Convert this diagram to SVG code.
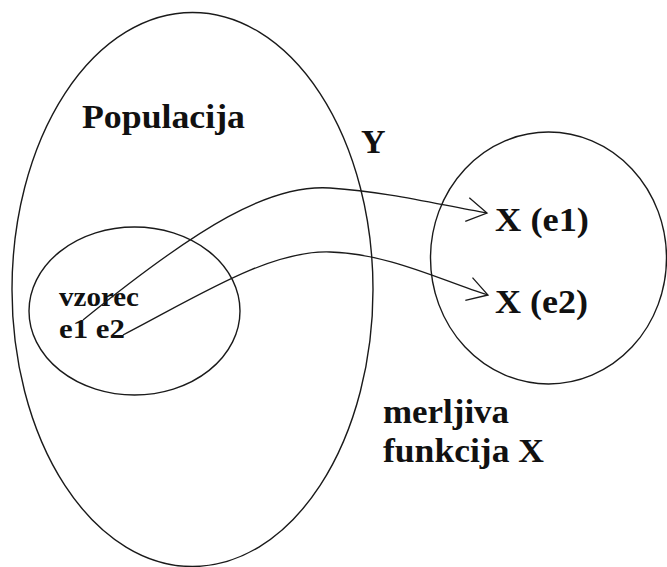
<svg xmlns="http://www.w3.org/2000/svg" width="667" height="567" viewBox="0 0 667 567">
<style>
.shape{fill:none;stroke:#1a1a1a;stroke-width:1.4}
.conn{fill:none;stroke:#1a1a1a;stroke-width:1.3}
.lbl{font-family:"Liberation Serif","Times New Roman",serif;font-weight:bold;font-size:33px;fill:#111}
.small{font-size:28px}
</style>
<defs>
<marker id="openArrow" markerUnits="userSpaceOnUse" markerWidth="40" markerHeight="40" refX="0" refY="0" orient="auto" viewBox="-30 -20 40 40" overflow="visible">
<path d="M-20,-12 L0,0 L-20,12" fill="none" stroke="#1a1a1a" stroke-width="1.3"/>
</marker>
</defs>
<rect width="667" height="567" fill="#fff"/>
<g id="population">
<ellipse class="shape" cx="192.5" cy="289.5" rx="180.5" ry="277"/>
<text class="lbl" x="82" y="128" textLength="163" lengthAdjust="spacingAndGlyphs">Populacija</text>
</g>
<g id="sample">
<ellipse class="shape" cx="134.5" cy="311" rx="105.5" ry="84"/>
<text class="lbl small" x="59" y="306" textLength="80" lengthAdjust="spacingAndGlyphs">vzorec</text>
<text class="lbl small" x="59" y="338" textLength="66" lengthAdjust="spacingAndGlyphs">e1 e2</text>
</g>
<g id="label-Y">
<text class="lbl" x="361" y="153" style="font-size:34px">Y</text>
</g>
<g id="image-set">
<ellipse class="shape" cx="548.5" cy="258" rx="118" ry="126"/>
<text class="lbl" x="495" y="231" textLength="94" lengthAdjust="spacingAndGlyphs" style="font-size:34px">X (e1)</text>
<text class="lbl" x="495" y="313" textLength="93" lengthAdjust="spacingAndGlyphs" style="font-size:34px">X (e2)</text>
</g>
<g id="function-label">
<text class="lbl" x="383" y="423" textLength="126" lengthAdjust="spacingAndGlyphs">merljiva</text>
<text class="lbl" x="383" y="462" textLength="161" lengthAdjust="spacingAndGlyphs">funkcija X</text>
</g>
<g id="connectors">
<path class="conn" d="M83,320 C200,225 270,184 330,188 S440,205 487,213" marker-end="url(#openArrow)"/>
<path class="conn" d="M123,335 C200,295 270,250 330,252 S440,280 488,295" marker-end="url(#openArrow)"/>
</g>
</svg>
